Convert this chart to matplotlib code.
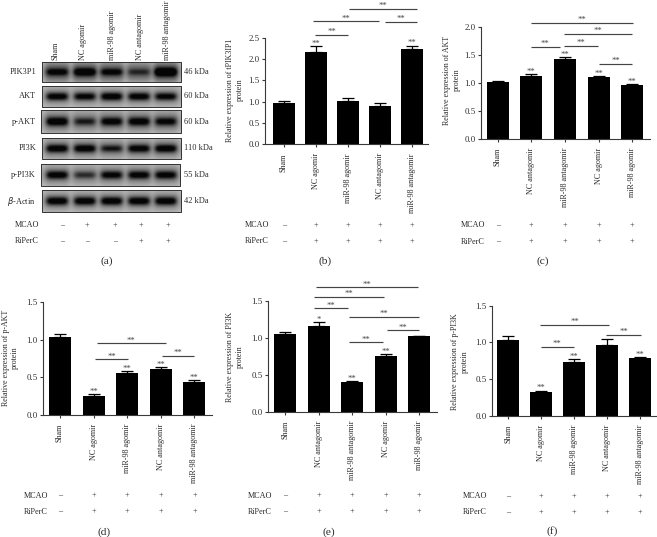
import numpy as np
import matplotlib
matplotlib.use("Agg")
import matplotlib.pyplot as plt

plt.rcParams['font.family'] = ['Liberation Serif', 'DejaVu Serif']
W, H = 657, 537
TXT = '#2a2a2a'
AX = '#3a3a3a'

names_b = ['Sham', 'NC agomir', 'miR-98 agomir', 'NC antagomir', 'miR-98 antagomir']
names_c = ['Sham', 'NC antagomir', 'miR-98 antagomir', 'NC agomir', 'miR-98 agomir']

vals_b = [0.96, 2.16, 1.02, 0.90, 2.24]
errs_b = [0.05, 0.14, 0.07, 0.07, 0.07]
vals_c = [1.01, 1.12, 1.43, 1.10, 0.96]
errs_c = [0.02, 0.03, 0.03, 0.02, 0.02]
vals_d = [1.03, 0.25, 0.56, 0.61, 0.44]
errs_d = [0.05, 0.02, 0.02, 0.02, 0.02]
vals_e = [1.05, 1.16, 0.40, 0.76, 1.02]
errs_e = [0.03, 0.05, 0.02, 0.02, 0.01]
vals_f = [1.03, 0.32, 0.73, 0.97, 0.78]
errs_f = [0.05, 0.02, 0.04, 0.07, 0.02]

stars_b = ['', '**', '', '', '**']
stars_c = ['', '**', '**', '**', '**']
stars_d = ['', '**', '**', '**', '**']
stars_e = ['', '*', '**', '**', '']
stars_f = ['', '**', '**', '', '**']

brackets_b = [(.97, 2.0, 2.57), (.91, 2.97, 2.88), (3.15, 4.14, 2.87), (2.04, 4.14, 3.17)]
brackets_c = [(.98, 1.85, 1.64), (1.98, 2.99, 1.66), (3.02, 3.98, 1.335), (1.98, 3.98, 1.87), (.98, 4.02, 2.07)]
brackets_d = [(1.04, 2.03, .737), (1.09, 3.15, .95), (3.04, 3.99, .786)]
brackets_e = [(.87, 1.87, 1.397), (.87, 2.95, 1.55), (.92, 3.97, 1.68), (1.9, 2.93, .94), (3.03, 4.0, 1.10), (1.9, 4.0, 1.28)]
brackets_f = [(.99, 1.98, .94), (.97, 3.06, 1.236), (2.95, 4.03, 1.10)]

mcao_signs = ['–', '+', '+', '+', '+']
riperc_bars = ['–', '+', '+', '+', '+']
riperc_blot = ['–', '–', '–', '+', '+']

blot_names = ['PIK3P1', 'AKT', 'p-AKT', 'PI3K', 'p-PI3K', r'$\beta$-Actin']
blot_kda = ['46 kDa', '60 kDa', '60 kDa', '110 kDa', '55 kDa', '42 kDa']
blot_strength = [
    [0.62, 0.80, 0.60, 0.35, 1.00],
    [0.95, 0.90, 1.00, 0.95, 0.90],
    [0.95, 0.62, 0.85, 0.88, 0.80],
    [0.92, 0.92, 0.68, 0.88, 0.92],
    [0.90, 0.55, 0.85, 0.88, 0.88],
    [1.00, 1.00, 1.00, 1.00, 1.00],
]
blot_halo = [0.42, 0.12, 0.20, 0.18, 0.16, 0.12]

fig = plt.figure(figsize=(W / 100, H / 100), dpi=100)
ov = fig.add_axes([0, 0, 1, 1], zorder=5)
ov.set_xlim(0, W); ov.set_ylim(H, 0); ov.axis('off'); ov.patch.set_alpha(0)

FS = 5.9


def panel(vals, errs, names, stars, brackets, ymax, L, R, ybot, ytop, c0, d, ylabel, ylx, yly,
          rowr, row1, row2, letter, letx, lety):
    ax = fig.add_axes([L / W, 1 - ybot / H, (R - L) / W, (ybot - ytop) / H])
    ax.patch.set_alpha(0)
    x = np.arange(len(vals))
    ax.bar(x, vals, width=22 / d, color='black', zorder=2)
    ax.errorbar(x, vals, yerr=[np.zeros(len(errs)), errs], fmt='none', ecolor='black',
                elinewidth=0.9, capsize=4.2, capthick=0.9, zorder=1)
    ax.set_xlim((L - c0) / d, (R - c0) / d)
    ax.set_ylim(0, ymax)
    ax.set_yticks(np.arange(0, ymax + 0.01, 0.5))
    ax.set_yticklabels([f'{v:.1f}' for v in np.arange(0, ymax + 0.01, 0.5)], fontsize=6.3, color=TXT)
    ax.set_xticks(x)
    ax.set_xticklabels(names, rotation=90, fontsize=FS, color=TXT)
    ax.tick_params(axis='both', color=AX, width=0.8, length=2.4, pad=1.6)
    ax.tick_params(axis='x', pad=4)
    for s in ['top', 'right']:
        ax.spines[s].set_visible(False)
    for s in ['left', 'bottom']:
        ax.spines[s].set_color(AX); ax.spines[s].set_linewidth(0.8)
    for i, st in enumerate(stars):
        if st:
            ax.annotate(st, (i, vals[i] + errs[i]), xytext=(0, 0.3), textcoords='offset points',
                        ha='center', va='baseline', fontsize=6.2, color='#444444', annotation_clip=False)
    for a, b, y in brackets:
        ax.plot([a, b], [y, y], color='#444444', lw=0.85, clip_on=False, solid_capstyle='butt')
        ax.annotate('**', ((a + b) / 2, y), xytext=(0, 0.6), textcoords='offset points',
                    ha='center', va='baseline', fontsize=6.2, color='#444444', annotation_clip=False)
    ov.text(ylx, yly, ylabel, rotation=90, ha='center', va='center', ma='center',
            fontsize=5.8, color=TXT, linespacing=1.25)
    ov.text(rowr, row1, 'MCAO', ha='right', va='center', fontsize=FS, color=TXT)
    ov.text(rowr, row2, 'RiPerC', ha='right', va='center', fontsize=FS, color=TXT)
    for i in range(5):
        px = c0 + d * i
        ov.text(px, row1, mcao_signs[i], ha='center', va='center', fontsize=FS, color=TXT)
        ov.text(px, row2, riperc_bars[i], ha='center', va='center', fontsize=FS, color=TXT)
    ov.text(letx, lety, letter, ha='center', va='center', fontsize=8.2, color=TXT)
    return ax


panel(vals_b, errs_b, names_b, stars_b, brackets_b, 2.5, 265, 428, 144.3, 37.7, 284, 32.05,
      'Relative expression of tPIK3IP1\nprotein', 235, 90, 269, 225, 241, '(b)', 325, 261)
panel(vals_c, errs_c, names_c, stars_c, brackets_c, 2.0, 481, 650, 139, 26.7, 497.7, 33.65,
      'Relative expression of AKT\nprotein', 452, 80, 485, 225, 241.7, '(c)', 543, 261)
panel(vals_d, errs_d, names_b, stars_d, brackets_d, 1.5, 43.3, 211.7, 414.7, 302, 60, 33.6,
      'Relative expression of p-AKT\nprotein', 10.5, 358, 48, 495.7, 511.7, '(d)', 104, 531.7)
panel(vals_e, errs_e, names_c, stars_e, brackets_e, 1.5, 268.3, 436.7, 412, 300.7, 285.3, 33.4,
      'Relative expression of PI3K\nprotein', 235, 357, 272, 495.7, 511.7, '(e)', 329, 532)
panel(vals_f, errs_f, names_b, stars_f, brackets_f, 1.5, 492.3, 656.7, 415.7, 305.7, 508.3, 33.0,
      'Relative expression of p-PI3K\nprotein', 460, 362, 487, 496, 512, '(f)', 552, 531)

# panel (a): blots, drawn as grey images from the band strengths
rows_y = [(62, 81.7), (86, 107), (110, 133), (138, 159), (164, 186), (190, 212)]
rows_x = [(41.7, 181), (41.7, 181), (40.7, 181), (41.7, 181), (40.7, 180), (41.7, 181)]
lane_x = [56.7, 84.3, 111, 138.3, 165]
for r, (strength, (y0, y1), (x0, x1)) in enumerate(zip(blot_strength, rows_y, rows_x)):
    nx, ny = int((x1 - x0) * 3), int((y1 - y0) * 3)
    xs = np.linspace(x0, x1, nx); ys = np.linspace(0, 1, ny)
    img = np.full((ny, nx), 0.80)
    img -= (0.18 * np.exp(-((ys - 0.5) / 0.5) ** 2))[:, None]
    for lx, s in zip(lane_x, strength):
        core_x = np.exp(-np.abs((xs - lx) / 10.8) ** 5)
        halo_x = np.exp(-np.abs((xs - lx) / 12.5) ** 6)
        core = np.exp(-((ys - 0.5) / (0.13 + 0.06 * s)) ** 2)
        halo = np.exp(-((ys - 0.5) / 0.55) ** 2)
        img -= (0.62 * s * core)[:, None] * core_x[None, :]
        img -= (blot_halo[r] * (0.5 + 0.5 * s) * halo)[:, None] * halo_x[None, :]
    img = np.clip(img, 0.02, 1)
    ov.imshow(img, extent=(x0, x1, y1, y0), cmap='gray', vmin=0, vmax=1, aspect='auto',
              interpolation='bilinear', zorder=1)
    ov.plot([x0, x1, x1, x0, x0], [y0, y0, y1, y1, y0], color='#333333', lw=0.7, zorder=2)
    ym = (y0 + y1) / 2
    ov.text(36, ym, blot_names[r], ha='right', va='center', fontsize=6.0, color=TXT)
    ov.text(184, ym, blot_kda[r], ha='left', va='center', fontsize=6.0, color=TXT)
ov.set_xlim(0, W); ov.set_ylim(H, 0)

for nm, px in zip(names_b, [56, 83, 112, 140, 167]):
    ov.text(px, 60, nm, rotation=90, ha='center', va='bottom', fontsize=FS, color=TXT)
sign_x = [61.7, 87.3, 115, 140.7, 167.7]
ov.text(39, 225, 'MCAO', ha='right', va='center', fontsize=FS, color=TXT)
ov.text(39, 241.3, 'RiPerC', ha='right', va='center', fontsize=FS, color=TXT)
for i, px in enumerate(sign_x):
    ov.text(px, 225, mcao_signs[i], ha='center', va='center', fontsize=FS, color=TXT)
    ov.text(px, 241.3, riperc_blot[i], ha='center', va='center', fontsize=FS, color=TXT)
ov.text(107, 261, '(a)', ha='center', va='center', fontsize=8.2, color=TXT)

fig.savefig('out.png', dpi=100)
